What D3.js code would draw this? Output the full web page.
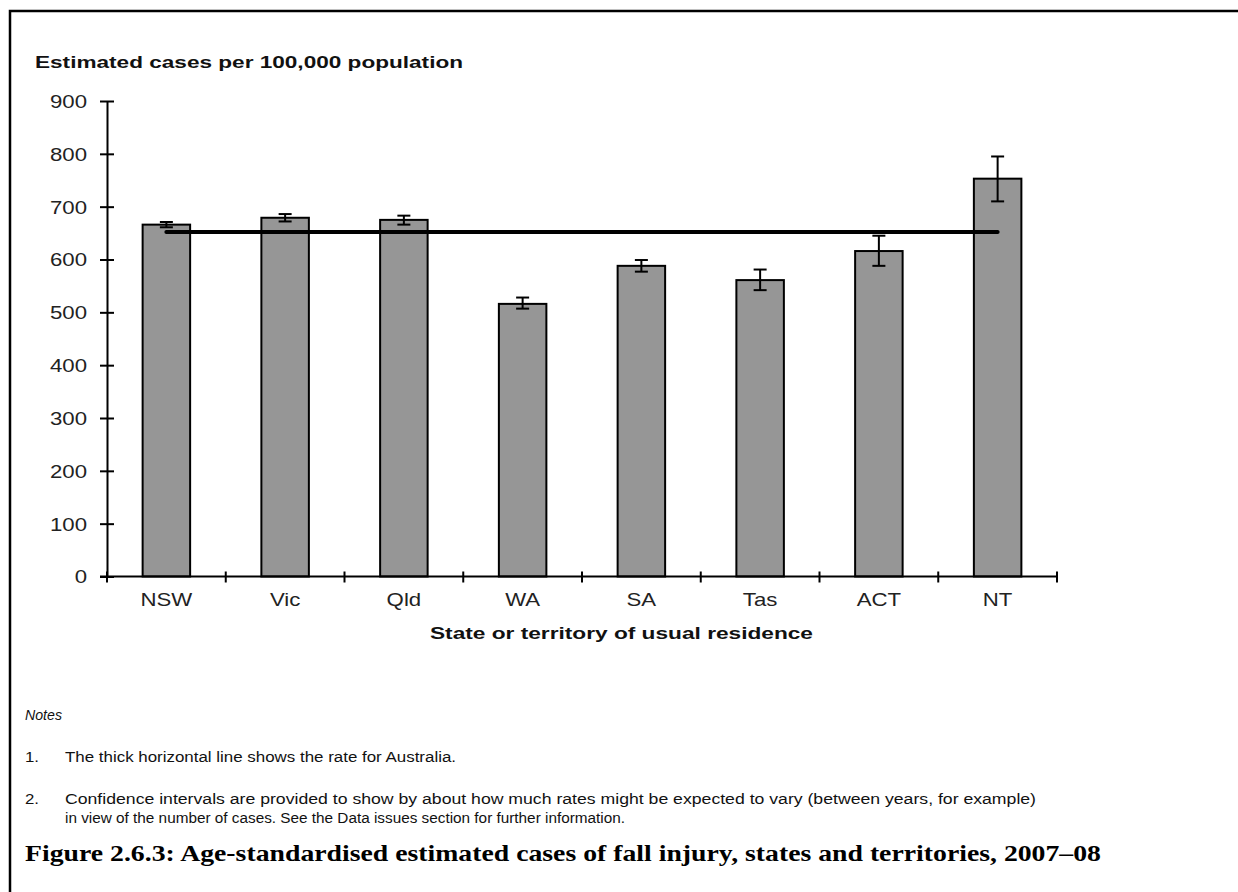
<!DOCTYPE html>
<html>
<head>
<meta charset="utf-8">
<script src="https://cdn.jsdelivr.net/npm/d3@7"></script>
<style>
  html, body { margin: 0; padding: 0; background: #fff; }
  svg { display: block; }
</style>
</head>
<body>
<svg id="chart" width="1238" height="892"></svg>
<script>
// Age-standardised fall injury cases by state/territory, 2007–08
const categories = ["NSW", "Vic", "Qld", "WA", "SA", "Tas", "ACT", "NT"];
const rates      = [666, 679, 675, 516, 588, 561, 616, 753];
const ciLower    = [661, 672, 666, 507, 577, 542, 588, 710];
const ciUpper    = [671, 686, 683, 528, 599, 581, 645, 795];
const australiaRate = 652;
const yTicks = [0, 100, 200, 300, 400, 500, 600, 700, 800, 900];

const yTitle = "Estimated cases per 100,000 population";
const xTitle = "State or territory of usual residence";
const notesHeading = "Notes";
const notes = [
  ["1.", ["The thick horizontal line shows the rate for Australia."]],
  ["2.", ["Confidence intervals are provided to show by about how much rates might be expected to vary (between years, for example)",
          "in view of the number of cases. See the Data issues section for further information."]]
];
const caption = "Figure 2.6.3: Age-standardised estimated cases of fall injury, states and territories, 2007\u201308";

const svg = d3.select("#chart");
const sans = "'Liberation Sans', Arial, sans-serif";
const serif = "'Liberation Serif', 'Times New Roman', serif";
const STRETCH = 1.2;

// widen text horizontally to the document's wide sans rendering
function stretch(sel, k = STRETCH) {
  sel.each(function () {
    const w = this.getComputedTextLength();
    d3.select(this).attr("textLength", w * k).attr("lengthAdjust", "spacingAndGlyphs");
  });
}
function fitTo(sel, w) {
  sel.attr("textLength", w).attr("lengthAdjust", "spacingAndGlyphs");
}

// page frame (top and left rules)
svg.append("path")
  .attr("d", "M10,892V11H1238")
  .attr("fill", "none").attr("stroke", "#000").attr("stroke-width", 2.5);

const x = d3.scaleBand().domain(categories).range([107, 1057]).paddingInner(0).paddingOuter(0);
const y = d3.scaleLinear().domain([0, 900]).range([576.5, 101]);
const barW = x.bandwidth() * 0.4;
const cx = c => x(c) + x.bandwidth() / 2;

// bars
svg.append("g").selectAll("rect")
  .data(categories)
  .join("rect")
  .attr("x", c => cx(c) - barW / 2)
  .attr("y", (c, i) => y(rates[i]))
  .attr("width", barW)
  .attr("height", (c, i) => y(0) - y(rates[i]))
  .attr("fill", "#969696")
  .attr("stroke", "#000")
  .attr("stroke-width", 2);

// confidence intervals
const eb = svg.append("g").attr("stroke", "#000").attr("stroke-width", 2);
categories.forEach((c, i) => {
  const xc = cx(c);
  eb.append("line").attr("x1", xc).attr("x2", xc).attr("y1", y(ciLower[i])).attr("y2", y(ciUpper[i]));
  eb.append("line").attr("x1", xc - 6.5).attr("x2", xc + 6.5).attr("y1", y(ciLower[i])).attr("y2", y(ciLower[i]));
  eb.append("line").attr("x1", xc - 6.5).attr("x2", xc + 6.5).attr("y1", y(ciUpper[i])).attr("y2", y(ciUpper[i]));
});

// Australian rate reference line
svg.append("line")
  .attr("x1", cx(categories[0]))
  .attr("x2", cx(categories[categories.length - 1]))
  .attr("y1", y(australiaRate)).attr("y2", y(australiaRate))
  .attr("stroke", "#000").attr("stroke-width", 4).attr("stroke-linecap", "round");

// y axis
const yAxis = svg.append("g")
  .attr("transform", "translate(107,0)")
  .call(d3.axisLeft(y).tickValues(yTicks).tickSizeInner(7).tickSizeOuter(0).tickPadding(13));
yAxis.select(".domain").attr("stroke", "#000").attr("stroke-width", 2);
yAxis.selectAll(".tick line").attr("x1", -7).attr("x2", 7).attr("stroke", "#000").attr("stroke-width", 2);
yAxis.selectAll(".tick text")
  .attr("font-family", sans).attr("font-size", 18.5).attr("fill", "#222")
  .attr("dy", "0.35em");
stretch(yAxis.selectAll(".tick text"));

// x axis
const xAxis = svg.append("g")
  .attr("transform", `translate(0,${y(0)})`)
  .call(d3.axisBottom(x).tickSize(0).tickPadding(16));
xAxis.select(".domain").attr("stroke", "#000").attr("stroke-width", 2).attr("d", `M${x.range()[0] - 7},0H${x.range()[1]}`);
xAxis.selectAll(".tick text")
  .attr("font-family", sans).attr("font-size", 18.5).attr("fill", "#222")
  .attr("dy", "0.71em");
stretch(xAxis.selectAll(".tick text"));
const bounds = categories.map(c => x(c)).concat([x.range()[1]]);
xAxis.selectAll("line.bound")
  .data(bounds)
  .join("line")
  .attr("class", "bound")
  .attr("x1", d => d).attr("x2", d => d)
  .attr("y1", -5).attr("y2", 6)
  .attr("stroke", "#000").attr("stroke-width", 2);

// axis titles
svg.append("text")
  .attr("x", 35).attr("y", 68)
  .attr("font-family", sans).attr("font-weight", "bold").attr("font-size", 16.5).attr("fill", "#111")
  .text(yTitle).call(fitTo, 428);

svg.append("text")
  .attr("x", 430).attr("y", 639)
  .attr("font-family", sans).attr("font-weight", "bold").attr("font-size", 16.5).attr("fill", "#111")
  .text(xTitle).call(fitTo, 383);

// notes
svg.append("text")
  .attr("x", 25).attr("y", 720)
  .attr("font-family", sans).attr("font-style", "italic").attr("font-size", 14).attr("fill", "#111")
  .text(notesHeading).call(fitTo, 37);

const noteY = [762, 804];
const noteWidths = [[391], [971, 560]];
notes.forEach(([num, lines], i) => {
  svg.append("text")
    .attr("x", 25).attr("y", noteY[i])
    .attr("font-family", sans).attr("font-size", 14).attr("fill", "#111")
    .text(num).call(stretch);
  lines.forEach((ln, j) => {
    svg.append("text")
      .attr("x", 65).attr("y", noteY[i] + j * 19)
      .attr("font-family", sans).attr("font-size", 14).attr("fill", "#111")
      .text(ln).call(fitTo, noteWidths[i][j]);
  });
});

// figure caption
svg.append("text")
  .attr("x", 25).attr("y", 861)
  .attr("font-family", serif).attr("font-weight", "bold").attr("font-size", 23).attr("fill", "#000")
  .text(caption).call(fitTo, 1076);
</script>
</body>
</html>
